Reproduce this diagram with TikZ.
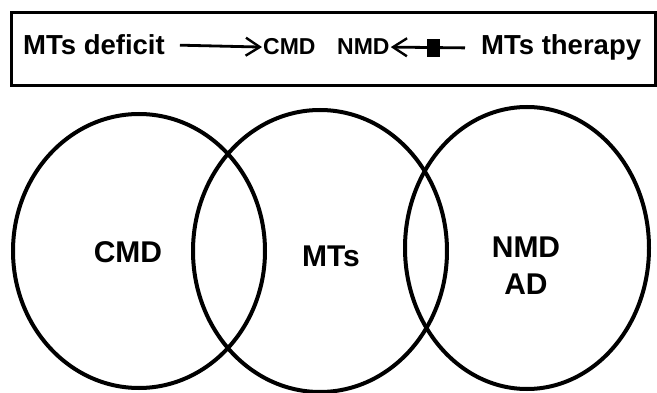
\documentclass[tikz,border=0pt]{standalone}
\usepackage{fontspec}
\setmainfont{Liberation Sans}
\usetikzlibrary{arrows.meta}
\tikzset{
  bigtext/.style={font=\bfseries\fontsize{27.5}{30}\selectfont, inner sep=0pt, anchor=base west},
  smalltext/.style={font=\bfseries\fontsize{23}{26}\selectfont, inner sep=0pt, anchor=base west},
  venn/.style={line width=4pt},
  vennlabel/.style={font=\bfseries\fontsize{30}{37}\selectfont, align=center, inner sep=0pt},
  barb/.style={line width=2.8pt, -{Straight Barb[length=14pt,width=18pt,line width=2.4pt]}},
  blocker/.style={fill, inner sep=0pt, minimum width=13pt, minimum height=18pt}
}
\begin{document}
\begin{tikzpicture}[x=1pt,y=-1pt]
        \useasboundingbox (0,0) rectangle (657,393);

        % legend box
        \draw[line width=3pt] (11,13) rectangle (655,86);
        \node[bigtext] (deficit) at (23,55) {MTs deficit};
        \node[smalltext] (cmdkey) at (263,55) {CMD};
        \node[smalltext] (nmdkey) at (337,55) {NMD};
        \node[bigtext] (therapy) at (481,55) {MTs therapy};

        % deficit promotes, therapy blocks
        \draw[barb] ([xshift=15pt]deficit.east) -- ([xshift=-1pt]cmdkey.west);
        \draw[barb] ([xshift=-16pt]therapy.west) -- ([xshift=1pt]nmdkey.east)
            node[blocker,pos=0.42] (stop) {};

        % three overlapping sets
        \draw[venn] (139,251) ellipse (126 and 137);
        \draw[venn] (320,251) ellipse (127 and 141);
        \draw[venn] (527,248) ellipse (122 and 141);
        \node[vennlabel] (cmd) at (128,252) {CMD};
        \node[vennlabel] (mts) at (331,256) {MTs};
        \node[vennlabel] (nmd) at (526,266) {NMD\\AD};
    \end{tikzpicture}
\end{document}
